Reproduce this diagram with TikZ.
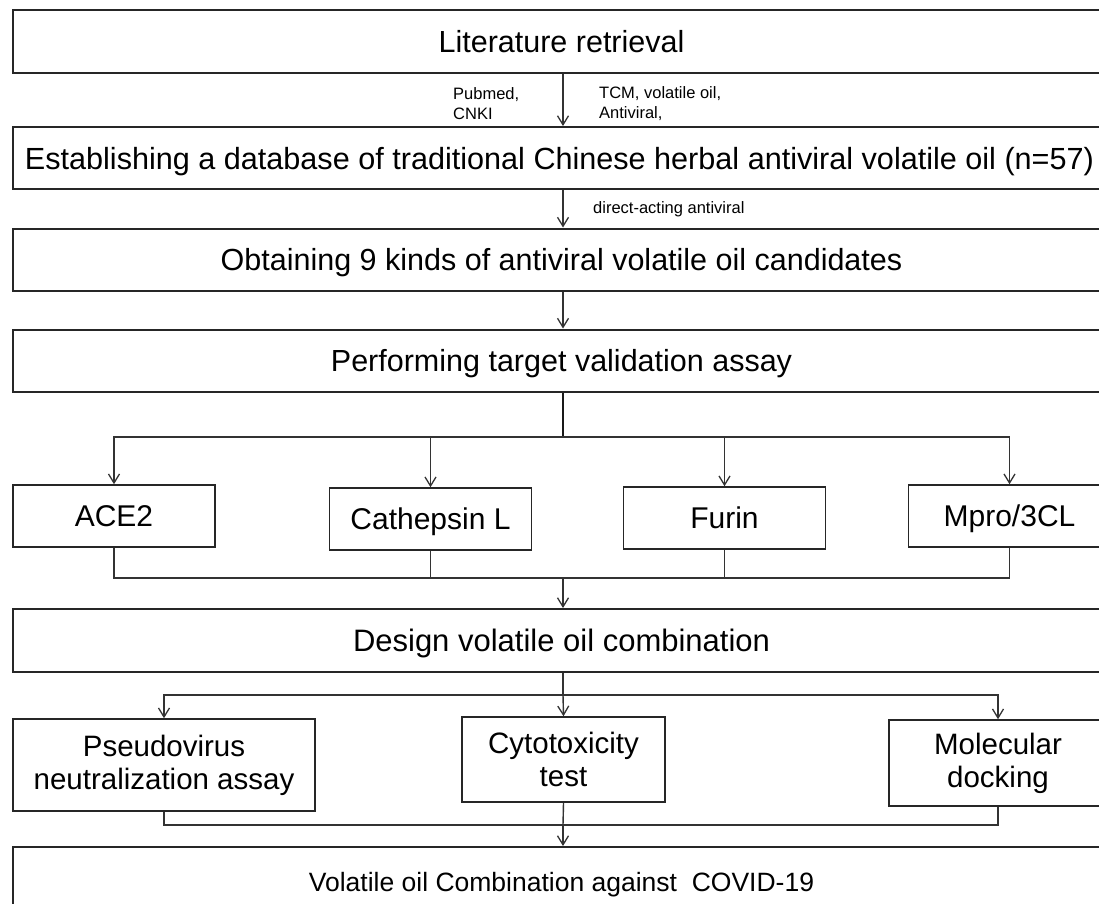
\documentclass[tikz,border=0pt]{standalone}
\usepackage{fontspec}
\setmainfont{Liberation Sans}
\usetikzlibrary{arrows.meta}
\begin{document}
\begin{tikzpicture}[x=1pt,y=-1pt,
  bigbox/.style={draw=black!85, line width=2pt, minimum width=1097pt, minimum height=62pt, inner sep=0pt, font=\fontsize{30.5}{34}\selectfont, text height=27pt, text depth=5pt},
  boxframe/.style={draw=black!85, line width=1.6pt, minimum width=202pt, minimum height=62pt, inner sep=0pt},
  smallbox/.style={boxframe, font=\fontsize{30}{33}\selectfont, text height=26pt, text depth=4.5pt},
  twobox/.style={boxframe, font=\fontsize{29.5}{33}\selectfont, align=center},
  conn/.style={draw=black!80, line width=1.4pt},
  arr/.style={conn, -{Straight Barb[length=9pt,width=11pt,line width=1.3pt]}},
  thick conn/.style={draw=black!90, line width=2.6pt},
  lbl/.style={font=\fontsize{16.5}{20}\selectfont, align=left, inner sep=0pt, anchor=west}
]
\useasboundingbox (0,0) rectangle (1099,903);
\fill[white] (0,0) rectangle (1099,903);

% main boxes
\node[bigbox, minimum height=63pt] (b1) at (561.5,41.5) {Literature retrieval};
\node[bigbox, font=\fontsize{30.6}{34}\selectfont] (b2) at (561.5,158) {\hspace*{-4pt}Establishing a database of traditional Chinese herbal antiviral volatile oil (n=57)};
\node[bigbox] (b3) at (561.5,259.5) {Obtaining 9 kinds of antiviral volatile oil candidates};
\node[bigbox] (b4) at (561.5,360.5) {Performing target validation assay};
\node[bigbox, minimum height=63pt, font=\fontsize{31}{34}\selectfont] (b5) at (561.5,640.5) {Design volatile oil combination};
\node[bigbox, minimum height=66pt, font=\fontsize{26.5}{30}\selectfont] (b6) at (561.5,880) {Volatile oil Combination against\ \ COVID-19};

% target boxes
\node[smallbox] (ace) at (114,516) {ACE2};
\node[smallbox] (cat) at (430.5,519) {Cathepsin L};
\node[smallbox] (fur) at (724.5,518) {Furin};
\node[smallbox] (mpro) at (1009.5,516) {Mpro/3CL};

% assay boxes
\node[twobox, minimum width=302pt, minimum height=92pt] (pse) at (164,765) {Pseudovirus\\neutralization assay};
\node[twobox, minimum width=203pt, minimum height=85pt] (cyt) at (563.5,759.5) {Cytotoxicity\\test};
\node[twobox, minimum width=218pt, minimum height=86pt] (mol) at (998,763) {Molecular\\docking};

% labels
\node[lbl] (l1) at (453,104) {Pubmed,\\CNKI};
\node[lbl] (l2) at (599,104) {TCM, volatile oil,\\Antiviral,};
\node[lbl] (l3) at (593,209) {direct-acting antiviral};

% hubs
\coordinate (h1) at (563,437);
\coordinate (j1) at (563,578);
\coordinate (h2) at (563,695);
\coordinate (j2) at (563,825);

% vertical chain
\draw[arr] (b1.south -| h1) -- (b2.north -| h1);
\draw[arr] (b2.south -| h1) -- (b3.north -| h1);
\draw[arr] (b3.south -| h1) -- (b4.north -| h1);
\draw[thick conn] (b4.south -| h1) -- (h1);
\draw[arr] (h1) -| (ace.north);
\draw[arr] (h1) -| (cat.north);
\draw[arr] (h1) -| (fur.north);
\draw[arr] (h1) -| (mpro.north);
\draw[conn, line width=2pt] (cat.north |- h1) -- (fur.north |- h1);
\draw[conn] (ace.south) |- (j1);
\draw[conn] (cat.south) |- (j1);
\draw[conn] (fur.south) |- (j1);
\draw[conn] (mpro.south) |- (j1);
\draw[conn, line width=2pt] (cat.south |- j1) -- (fur.south |- j1);
\draw[arr] (j1) -- (b5.north -| j1);
\draw[conn] (b5.south -| h2) -- (h2);
\draw[arr] (h2) -| (pse.north);
\draw[arr] (h2) -- (cyt.north);
\draw[arr] (h2) -| (mol.north);
\draw[conn] (pse.south) |- (j2);
\draw[conn] (cyt.south) -- (j2);
\draw[conn] (mol.south) |- (j2);
\draw[arr] (j2) -- (b6.north -| j2);
\end{tikzpicture}
\end{document}
